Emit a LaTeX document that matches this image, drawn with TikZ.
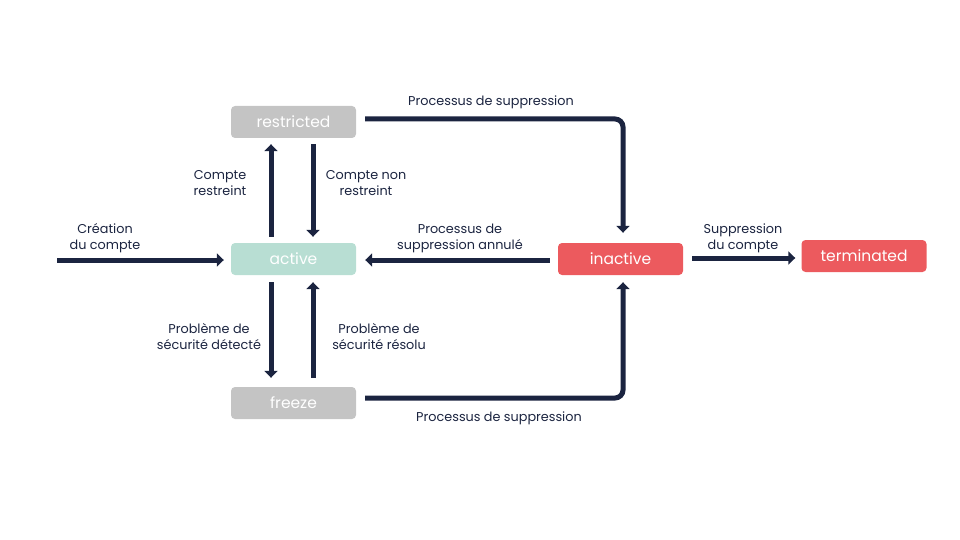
\documentclass[tikz,border=0pt]{standalone}
\usepackage{fontspec}
\setmainfont{Poppins}
\usetikzlibrary{arrows.meta}
\definecolor{navy}{HTML}{1B2440}
\definecolor{greybox}{HTML}{C4C4C4}
\definecolor{mint}{HTML}{B8DED3}
\definecolor{redbox}{HTML}{EC5A5E}
\tikzset{>={Triangle[length=7pt,width=13pt]}}
\tikzset{
    state/.style={rounded corners=4pt, minimum width=125pt, minimum height=32pt,
        text=white, font=\fontsize{15.5}{18}\selectfont, inner sep=0pt},
    flow/.style={->, line width=5pt, draw=navy, rounded corners=8pt},
    tag/.style={text=navy, font=\fontsize{12.8}{16}\selectfont, align=center, inner sep=0pt},
}

\begin{document}
\begin{tikzpicture}[x=1pt,y=-1pt]
    \useasboundingbox (0,0) rectangle (960,540);
    \node[state,fill=greybox] (restricted) at (293.5,122) {restricted};
    \node[state,fill=mint]    (active)     at (293.5,259) {active};
    \node[state,fill=greybox] (freeze)     at (293.5,403) {freeze};
    \node[state,fill=redbox]  (inactive)   at (620.5,259) {inactive};
    \node[state,fill=redbox]  (terminated) at (864,256)   {terminated};
    \coordinate (start) at (57,260);
    % arrows
    \draw[flow] (start) -- ([xshift=-7pt,yshift=-1pt]active.west);
    \draw[flow] ([xshift=9pt,yshift=3pt]restricted.east) -| ([xshift=2.5pt,yshift=10pt]inactive.north);
    \draw[flow] ([xshift=-22.5pt,yshift=6pt]active.north) -- ([xshift=-22.5pt,yshift=-6pt]restricted.south);
    \draw[flow] ([xshift=19.5pt,yshift=-6pt]restricted.south) -- ([xshift=19.5pt,yshift=6pt]active.north);
    \draw[flow] ([xshift=-8pt,yshift=-1pt]inactive.west) -- ([xshift=9pt,yshift=-1pt]active.east);
    \draw[flow] ([xshift=9pt,yshift=1pt]inactive.east) -- ([xshift=-6pt,yshift=-2pt]terminated.west);
    \draw[flow] ([xshift=-22.5pt,yshift=-7pt]active.south) -- ([xshift=-22.5pt,yshift=9pt]freeze.north);
    \draw[flow] ([xshift=19.5pt,yshift=9pt]freeze.north) -- ([xshift=19.5pt,yshift=-7pt]active.south);
    \draw[flow] ([xshift=9pt,yshift=5pt]freeze.east) -| ([xshift=2.5pt,yshift=-7pt]inactive.south);
    % labels
    \node[tag] (lcreate)   at (105,238) {Création\\du compte};
    \node[tag] (ldelete1)  at (491,102) {Processus de suppression};
    \node[tag] (lrestrict) at (220,183) {Compte\\restreint};
    \node[tag] (lunrestr)  at (366,183) {Compte non\\restreint};
    \node[tag] (lcancel)   at (460,238) {Processus de\\suppression annulé};
    \node[tag] (lterm)     at (743,238) {Suppression\\du compte};
    \node[tag] (ldetect)   at (209,337) {Problème de\\sécurité détecté};
    \node[tag] (lsolved)   at (379,337) {Problème de\\sécurité résolu};
    \node[tag] (ldelete2)  at (499,418) {Processus de suppression};
\end{tikzpicture}
\end{document}
